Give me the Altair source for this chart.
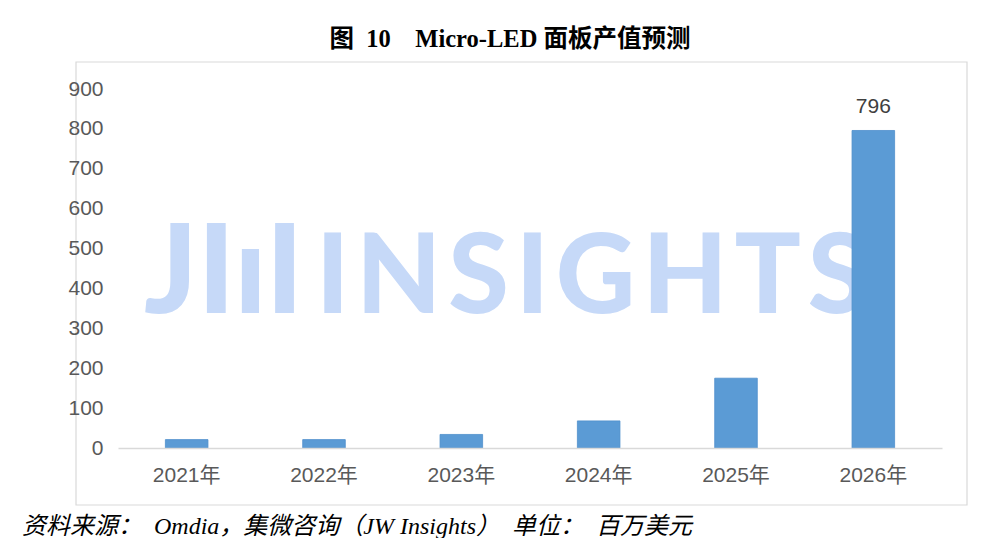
import altair as alt
import pandas as pd

# data
years = ["2021年", "2022年", "2023年", "2024年", "2025年", "2026年"]
values = [21, 21, 34, 68, 175, 796]
y_ticks = [0, 100, 200, 300, 400, 500, 600, 700, 800, 900]
label_year = "2026年"

SP = "\u2002"
HS = "\u200a"
title_text = "图" + SP + "10" + SP * 2 + "Micro-LED 面板产值预测"
footer_text = ("资料来源：" + SP + "Omdia，集微咨询（JW Insights）" + SP
               + "单位：" + SP + "百万美元")
wm_word = HS.join("INSIGHTS")

df = pd.DataFrame({"year": years, "value": values})
one = alt.Data(values=[{}])

W, H = 824, 359
SANS = "Liberation Sans, Noto Sans CJK SC"
SERIF = "Liberation Serif, Noto Sans CJK SC"
WM_COLOR = "#c6d9f8"

# outer frame around the plot
frame = alt.Chart(one).mark_rect(fillOpacity=0, stroke="#d9d9d9", strokeWidth=1.2).encode(
    x=alt.value(-42), x2=alt.value(849), y=alt.value(-27), y2=alt.value(416)
)

# watermark
def wm(txt, xpos, size):
    return alt.Chart(one).mark_text(
        text=txt, font="Lato", fontWeight=900, fontSize=size, color=WM_COLOR,
        align="left", baseline="alphabetic"
    ).encode(x=alt.value(xpos), y=alt.value(224))

wm_jw = wm("JIıI", 26, 124)
wm_ins = wm(wm_word, 198, 110)

x_enc = alt.X(
    "year:N", sort=years, title=None,
    scale=alt.Scale(paddingInner=0.69, paddingOuter=0.345),
    axis=alt.Axis(labelAngle=0, ticks=False, domainColor="#d9d9d9", domainWidth=1.5,
                  labelFont=SANS, labelFontSize=21, labelColor="#595959", labelPadding=16,
                  zindex=1),
)
y_enc = alt.Y(
    "value:Q", title=None,
    scale=alt.Scale(domain=[0, 900], nice=False),
    axis=alt.Axis(values=y_ticks, grid=False, domain=False, ticks=False, labelOverlap=False,
                  labelFont=SANS, labelFontSize=21, labelColor="#595959", labelPadding=15,
                  zindex=1),
)

bars = alt.Chart(df).mark_bar(color="#5b9bd5", stroke="#4f8fcb", strokeWidth=0.8).encode(
    x=x_enc, y=y_enc
)

label = alt.Chart(df).transform_filter(
    alt.datum.year == label_year
).mark_text(font=SANS, fontSize=21, color="#404040", baseline="bottom", dy=-13).encode(
    x=x_enc, y=y_enc, text="value:Q"
)

title = alt.Chart(one).mark_text(
    text=title_text, font=SERIF, fontWeight="bold", fontSize=24.5, color="#000000",
    align="center", baseline="middle"
).encode(x=alt.value(392), y=alt.value(-49))

footer = alt.Chart(one).mark_text(
    text=footer_text, font=SERIF, fontStyle="italic", fontSize=24, color="#000000",
    align="left", baseline="middle"
).encode(x=alt.value(-96), y=alt.value(438))

chart = alt.layer(frame, wm_jw, wm_ins, bars, label, title, footer).properties(
    width=W, height=H,
    autosize=alt.AutoSizeParams(type="none"),
    padding={"left": 110, "top": 81, "right": 50, "bottom": 90},
).configure_view(strokeWidth=0)

chart.save("out.html", embed_options={"renderer": "svg", "actions": False})
